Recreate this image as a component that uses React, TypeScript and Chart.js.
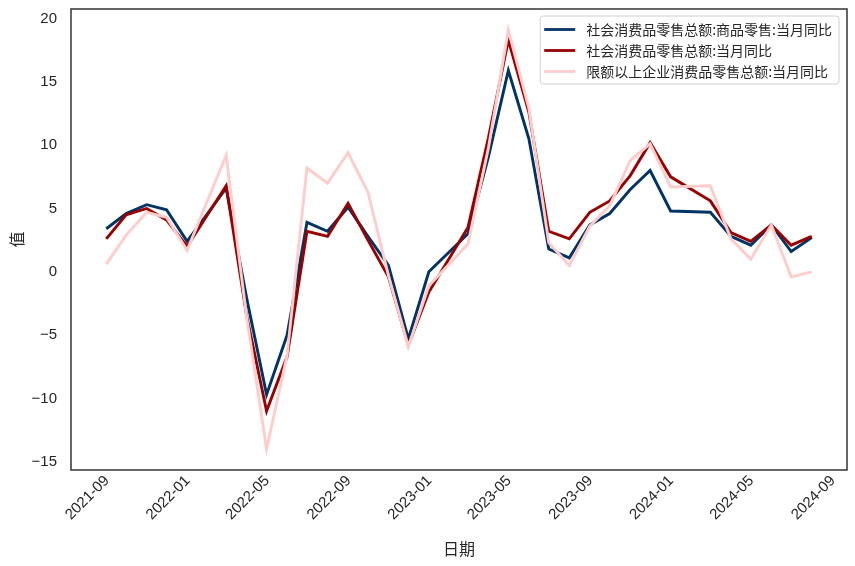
import React, { useEffect, useRef } from 'react';
import { Chart, registerables } from 'chart.js';

Chart.register(...registerables);

// Month-end observation dates (January is reported together with February)
const dates = [
  '2021-08-31', '2021-09-30', '2021-10-31', '2021-11-30', '2021-12-31',
  '2022-02-28', '2022-03-31', '2022-04-30', '2022-05-31', '2022-06-30', '2022-07-31',
  '2022-08-31', '2022-09-30', '2022-10-31', '2022-11-30', '2022-12-31',
  '2023-02-28', '2023-03-31', '2023-04-30', '2023-05-31', '2023-06-30', '2023-07-31',
  '2023-08-31', '2023-09-30', '2023-10-31', '2023-11-30', '2023-12-31',
  '2024-02-29', '2024-03-31', '2024-04-30', '2024-05-31', '2024-06-30', '2024-07-31',
];

const retailGoods = [
  3.4, 4.6, 5.3, 4.9, 2.4,
  6.6, -2.1, -9.7, -5.0, 3.9, 3.2,
  5.1, 2.8, 0.5, -5.3, 0.0,
  3.0, 9.1, 15.9, 10.5, 1.8, 1.1,
  3.7, 4.6, 6.5, 8.0, 4.8,
  4.7, 2.8, 2.1, 3.7, 1.6, 2.7,
];

const retailTotal = [
  2.6, 4.5, 5.0, 4.1, 2.0,
  6.8, -3.5, -11.0, -6.7, 3.2, 2.8,
  5.4, 2.5, -0.4, -5.8, -1.6,
  3.5, 10.6, 18.3, 12.6, 3.2, 2.6,
  4.7, 5.6, 7.6, 10.2, 7.5,
  5.6, 3.1, 2.4, 3.7, 2.1, 2.8,
];

const retailAboveLimit = [
  0.6, 2.9, 4.7, 4.3, 1.7,
  9.2, -3.6, -14.0, -6.6, 8.2, 7.0,
  9.4, 6.3, -0.3, -5.9, -1.1,
  2.2, 9.8, 19.1, 12.9, 2.3, 0.5,
  3.6, 5.2, 8.8, 10.1, 6.7,
  6.8, 2.6, 1.0, 3.7, -0.4, 0.0,
];

const seriesNames = [
  '社会消费品零售总额:商品零售:当月同比',
  '社会消费品零售总额:当月同比',
  '限额以上企业消费品零售总额:当月同比',
];

const seriesColors = ['#003366', '#990000', '#ffcccc'];

const xTickLabels = [
  '2021-09', '2022-01', '2022-05', '2022-09', '2023-01',
  '2023-05', '2023-09', '2024-01', '2024-05', '2024-09',
];

const xAxisTitle = '日期';
const yAxisTitle = '值';

const TEXT = '#262626';
const LATIN = '"Liberation Sans", Arial, "Noto Sans CJK SC", sans-serif';
const CJK = '"Noto Sans CJK SC", "Liberation Sans", sans-serif';

const frameLegendPlugin = {
  id: 'frameLegend',
  afterDraw(chart: any) {
    const { ctx, chartArea: a } = chart;
    ctx.save();
    // axes frame
    ctx.strokeStyle = '#333333';
    ctx.lineWidth = 1.5;
    ctx.strokeRect(a.left, a.top, a.right - a.left, a.bottom - a.top);

    // legend box, upper right inside the plot
    ctx.font = `14px ${CJK}`;
    const ds = chart.data.datasets;
    const texts = ds.map((d: any) => d.label as string);
    const maxW = Math.max(...texts.map((t: string) => ctx.measureText(t).width));
    const rowH = 21;
    const boxW = 46 + maxW + 7;
    const boxH = rowH * texts.length + 5;
    const bx = a.right - 8 - boxW;
    const by = a.top + 7;
    ctx.beginPath();
    ctx.roundRect(bx, by, boxW, boxH, 3);
    ctx.fillStyle = 'rgba(255,255,255,0.8)';
    ctx.fill();
    ctx.strokeStyle = '#d0d0d0';
    ctx.lineWidth = 1;
    ctx.stroke();
    texts.forEach((t: string, i: number) => {
      const y = by + 13.5 + i * rowH;
      ctx.beginPath();
      ctx.moveTo(bx + 4, y);
      ctx.lineTo(bx + 35, y);
      ctx.strokeStyle = ds[i].borderColor;
      ctx.lineWidth = 2.8;
      ctx.stroke();
      ctx.fillStyle = TEXT;
      ctx.textAlign = 'left';
      ctx.textBaseline = 'middle';
      ctx.fillText(t, bx + 46, y);
    });
    ctx.restore();
  },
};

export default function App() {
  const ref = useRef<HTMLCanvasElement | null>(null);

  useEffect(() => {
    if (!ref.current) return;
    const xs = dates.map((d) => Date.parse(d));
    const xFirst = xs[0];
    const xLast = xs[xs.length - 1];
    const xPad = (xLast - xFirst) * 0.05;
    const allY = [...retailGoods, ...retailTotal, ...retailAboveLimit];
    const yLo = Math.min(...allY);
    const yHi = Math.max(...allY);
    const yPad = (yHi - yLo) * 0.05;
    const tickValues = xTickLabels.map((l) => Date.parse(l + '-01'));

    const mk = (vals: number[]) => vals.map((v, i) => ({ x: xs[i], y: v }));
    const seriesData = [retailGoods, retailTotal, retailAboveLimit];

    const chart = new Chart(ref.current, {
      type: 'line',
      data: {
        datasets: seriesData.map((vals, i) => ({
          label: seriesNames[i],
          data: mk(vals),
          borderColor: seriesColors[i],
          backgroundColor: seriesColors[i],
          borderWidth: 2.9,
          pointRadius: 0,
          tension: 0,
          fill: false,
          order: 3 - i,
        })),
      },
      options: {
        responsive: false,
        animation: false,
        layout: { padding: { top: 9, right: 8, left: 0, bottom: 0 } },
        plugins: {
          legend: { display: false },
          tooltip: { enabled: false },
        },
        scales: {
          x: {
            type: 'linear',
            min: xFirst - xPad,
            max: xLast + xPad,
            grid: { display: false, drawTicks: false },
            border: { display: false },
            afterBuildTicks: (scale: any) => {
              scale.ticks = tickValues.map((v) => ({ value: v }));
            },
            afterFit: (scale: any) => {
              scale.height = 96;
              scale.paddingLeft = 0;
              scale.paddingRight = 0;
            },
            ticks: {
              autoSkip: false,
              maxRotation: 45,
              minRotation: 45,
              padding: 2,
              color: TEXT,
              font: { size: 15, family: LATIN },
              callback: (v: any) => {
                const idx = tickValues.indexOf(Number(v));
                return idx >= 0 ? xTickLabels[idx] : '';
              },
            },
            title: {
              display: true,
              text: xAxisTitle,
              color: TEXT,
              font: { size: 16, family: CJK },
              padding: { top: 0, bottom: 7.5 },
            },
          },
          y: {
            type: 'linear',
            min: yLo - yPad,
            max: yHi + yPad,
            grid: { display: false, drawTicks: false },
            border: { display: false },
            afterFit: (scale: any) => {
              scale.width = 71;
              scale.paddingTop = 0;
              scale.paddingBottom = 0;
            },
            ticks: {
              stepSize: 5,
              includeBounds: false,
              padding: 14,
              color: TEXT,
              font: { size: 15, family: LATIN },
              callback: (v: any) => String(v).replace('-', '\u2212'),
            },
            title: {
              display: true,
              text: yAxisTitle,
              color: TEXT,
              font: { size: 16, family: CJK },
              padding: { top: 7.5, bottom: 0 },
            },
          },
        },
      },
      plugins: [frameLegendPlugin],
    } as any);

    return () => chart.destroy();
  }, []);

  return (
    <div style={{ position: 'absolute', left: 0, top: 0, width: 855, height: 566, background: '#ffffff' }}>
      <canvas ref={ref} width={855} height={566} style={{ display: 'block' }} />
    </div>
  );
}
